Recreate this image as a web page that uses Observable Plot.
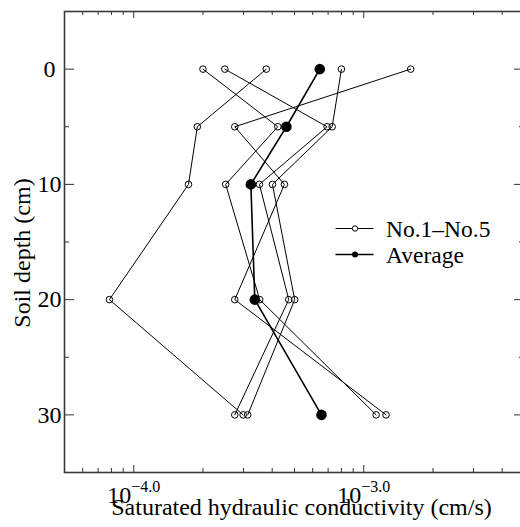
<!DOCTYPE html>
<html><head><meta charset="utf-8">
<script src="https://cdn.jsdelivr.net/npm/d3@7"></script>
<script src="https://cdn.jsdelivr.net/npm/@observablehq/plot@0.6"></script>
<style>
html,body{margin:0;padding:0;overflow:hidden;background:#fff;width:520px;height:527px}
#wrap{position:relative;width:520px;height:527px;overflow:hidden}
#wrap svg{max-width:none !important}
#legend{position:absolute;left:0;top:0}
</style></head><body><div id="wrap"></div>
<script>
// ---- data ----
const depths = [0, 5, 10, 20, 30];
const seriesNames = ["No.1", "No.2", "No.3", "No.4", "No.5"];
const no1 = [2.00e-4, 4.23e-4, 2.51e-4, 3.53e-4, 1.132e-3];
const no2 = [2.49e-4, 6.93e-4, 3.52e-4, 4.72e-4, 2.75e-4];
const no3 = [3.77e-4, 1.89e-4, 1.73e-4, 7.84e-5, 2.99e-4];
const no4 = [8.00e-4, 7.29e-4, 4.01e-4, 5.01e-4, 3.13e-4];
const no5 = [1.60e-3, 2.75e-4, 4.52e-4, 2.75e-4, 1.25e-3];
const average = [6.44e-4, 4.61e-4, 3.23e-4, 3.36e-4, 6.55e-4];

const xDomain = [5e-5, 5e-3];
const yDomain = [-5, 35];
const xMajorTicks = [1e-4, 1e-3];
const xTickLabels = ["10^−4.0", "10^−3.0"];
const xMinorTicks = [6e-5, 7e-5, 8e-5, 9e-5, 2e-4, 3e-4, 4e-4, 5e-4, 6e-4, 7e-4, 8e-4, 9e-4, 2e-3, 3e-3, 4e-3];
const yMajorTicks = [0, 10, 20, 30];
const yMinorTicks = [5, 15, 25];
const xTitle = "Saturated hydraulic conductivity (cm/s)";
const yTitle = "Soil depth (cm)";
const legendLabels = ["No.1–No.5", "Average"];

// ---- tables ----
const seriesValues = [no1, no2, no3, no4, no5];
const rows = [];
seriesValues.forEach((vals, i) => vals.forEach((k, j) => rows.push({series: seriesNames[i], depth: depths[j], k})));
const avgRows = average.map((k, j) => ({series: "Average", depth: depths[j], k}));

const W = 528, H = 527, mL = 64, mR = 4, mT = 11, mB = 55;
const fw = W - mL - mR, fh = H - mT - mB;
const tickCol = "#333";
const font = "'Liberation Serif', 'Times New Roman', serif";

const chart = Plot.plot({
  width: W, height: H,
  marginLeft: mL, marginRight: mR, marginTop: mT, marginBottom: mB,
  style: {fontFamily: font, fontSize: "24px", color: "#000", background: "#fff", overflow: "visible", maxWidth: "none"},
  x: {type: "log", domain: xDomain, axis: null},
  y: {domain: yDomain, reverse: true, axis: null},
  marks: [
    // ticks (inward, all four sides)
    Plot.tickX(xMajorTicks, {x: d => d, stroke: tickCol, insetTop: fh - 7}),
    Plot.tickX(xMajorTicks, {x: d => d, stroke: tickCol, insetBottom: fh - 7}),
    Plot.tickX(xMinorTicks, {x: d => d, stroke: tickCol, insetTop: fh - 4}),
    Plot.tickX(xMinorTicks, {x: d => d, stroke: tickCol, insetBottom: fh - 4}),
    Plot.tickY(yMajorTicks, {y: d => d, stroke: tickCol, insetRight: fw - 10}),
    Plot.tickY(yMajorTicks, {y: d => d, stroke: tickCol, insetLeft: fw - 10}),
    Plot.tickY(yMinorTicks, {y: d => d, stroke: tickCol, insetRight: fw - 5}),
    Plot.tickY(yMinorTicks, {y: d => d, stroke: tickCol, insetLeft: fw - 5}),
    Plot.frame({stroke: "#3a3a3a", strokeWidth: 1.6}),
    // tick labels
    Plot.text(xMajorTicks, {x: d => d, text: (d, i) => xTickLabels[i], frameAnchor: "bottom", dy: 30, lineAnchor: "bottom", fontSize: 24, fill: "#000"}),
    Plot.text(yMajorTicks, {y: d => d, text: d => String(d), frameAnchor: "left", dx: -15, textAnchor: "middle", lineAnchor: "middle", fontSize: 24, fill: "#000"}),
    // titles
    Plot.text([xTitle], {frameAnchor: "bottom", dx: 7, dy: 42, textAnchor: "middle", lineAnchor: "bottom", fontSize: 24, fill: "#000"}),
    Plot.text([yTitle], {frameAnchor: "left", dx: -35, dy: 11, rotate: -90, textAnchor: "middle", lineAnchor: "bottom", fontSize: 24, fill: "#000"}),
    // data
    Plot.line(rows, {x: "k", y: "depth", z: "series", stroke: "#000", strokeWidth: 1}),
    Plot.dot(rows, {x: "k", y: "depth", r: 3.3, stroke: "#000", fill: "none", strokeWidth: 1}),
    Plot.line(avgRows, {x: "k", y: "depth", stroke: "#000", strokeWidth: 1.6}),
    Plot.dot(avgRows, {x: "k", y: "depth", r: 5.3, fill: "#000", stroke: "none"})
  ]
});

// superscript exponents in x tick labels
d3.select(chart).selectAll("text").each(function () {
  const t = this.textContent;
  if (t.includes("^")) {
    const [base, exp] = t.split("^");
    const sel = d3.select(this);
    sel.text(null);
    sel.append("tspan").text(base);
    sel.append("tspan").attr("dy", "-0.65em").attr("font-size", "16px").text(exp);
  }
});

const wrap = document.getElementById("wrap");
wrap.appendChild(chart);

// legend overlay
const lg = d3.select(wrap).append("svg").attr("id", "legend").attr("width", 520).attr("height", 527)
  .style("font-family", font);
const legendY = [228.5, 254.5];
legendLabels.forEach((lab, i) => {
  const g = lg.append("g").attr("transform", `translate(0,${legendY[i]})`);
  g.append("line").attr("x1", 335.5).attr("x2", 373.5).attr("y1", 0).attr("y2", 0).attr("stroke", "#000").attr("stroke-width", i ? 1.4 : 1);
  if (i === 0) g.append("circle").attr("cx", 355).attr("cy", 0).attr("r", 2.7).attr("fill", "#fff").attr("stroke", "#000");
  else g.append("circle").attr("cx", 355).attr("cy", 0).attr("r", 3).attr("fill", "#000");
  g.append("text").attr("x", 386).attr("y", 8.3).attr("font-size", 23.5).attr("fill", "#000").text(lab);
});
</script>
</body></html>
